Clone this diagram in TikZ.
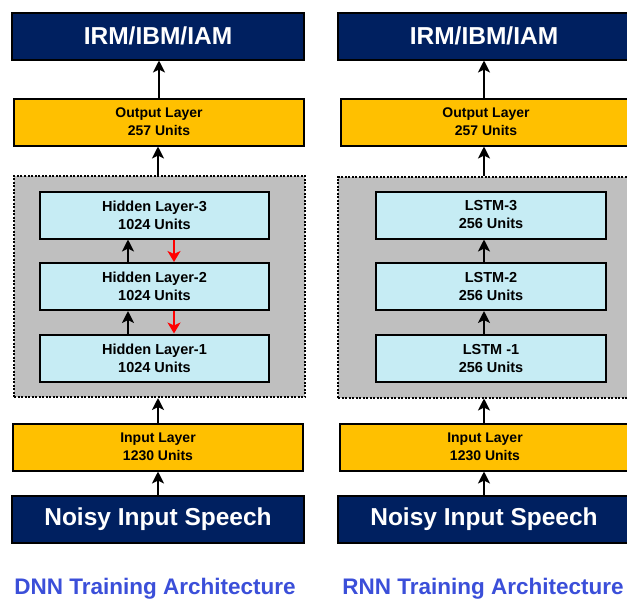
\documentclass[tikz,border=0pt]{standalone}
\usepackage{fontspec}
\setmainfont{Liberation Sans}
\usetikzlibrary{arrows.meta, positioning, calc}
\definecolor{navy}{RGB}{0, 32, 96}
\definecolor{gold}{RGB}{255, 192, 0}
\definecolor{lightcyan}{RGB}{198, 236, 244}
\definecolor{groupgray}{RGB}{191, 191, 191}
\definecolor{titleblue}{RGB}{59, 79, 217}

\begin{document}
\begin{tikzpicture}[x=1pt, y=-1pt,
    every node/.style={align=center, inner sep=0pt},
    endbox/.style={draw=black, line width=2pt, fill=navy, text=white, minimum width=292pt, minimum height=47pt, font=\bfseries\fontsize{24.5}{28}\selectfont},
    layerbox/.style={draw=black, line width=2pt, fill=gold, minimum width=290pt, minimum height=47pt, font=\bfseries\fontsize{14}{18}\selectfont},
    hiddenbox/.style={draw=black, line width=2pt, fill=lightcyan, minimum width=229pt, minimum height=47pt, font=\bfseries\fontsize{14.5}{18}\selectfont},
    groupbox/.style={draw=black, line width=2pt, dash pattern=on 2pt off 1.5pt, fill=groupgray, minimum width=291pt, minimum height=221pt},
    titletext/.style={anchor=base, text=titleblue, font=\bfseries\fontsize{22.5}{26}\selectfont},
    uparrow/.style={black, line width=2.5pt, -{Stealth[length=12pt, width=12pt, inset=3pt]}},
    backarrow/.style={red, line width=2.5pt, -{Stealth[length=11pt, width=13pt, inset=3pt]}}]
                \useasboundingbox (0,0) rectangle (627,598);
                \clip (0,0) rectangle (627,598);

                % DNN column
                \node[endbox] (maskL) at (158, 36) {IRM/IBM/IAM};
                \node[layerbox] (outL) at (159, 122) {Output Layer\\257 Units};
                \node[groupbox] (grpL) at (159.5, 286.5) {};
                \node[hiddenbox] (hidC) at (154.5, 215) {Hidden Layer-3\\1024 Units};
                \node[hiddenbox] (hidB) at (154.5, 286.5) {Hidden Layer-2\\1024 Units};
                \node[hiddenbox] (hidA) at (154.5, 358) {Hidden Layer-1\\1024 Units};
                \node[layerbox] (inL) at (158, 447) {Input Layer\\1230 Units};
                \node[endbox] (noisyL) at (158, 519.5) {Noisy Input Speech};
                \node[titletext] (titleL) at (155, 594) {DNN Training Architecture};

                \draw[uparrow] (noisyL.north) -- (noisyL.north |- inL.south);
                \draw[uparrow] (inL.north) -- (inL.north |- grpL.south);
                \draw[uparrow] (inL.north |- grpL.north) -- (inL.north |- outL.south);
                \draw[uparrow] (outL.north) -- (outL.north |- maskL.south);
                \draw[uparrow] ([xshift=-26.5pt]hidA.north) -- ([xshift=-26.5pt]hidB.south);
                \draw[uparrow] ([xshift=-26.5pt]hidB.north) -- ([xshift=-26.5pt]hidC.south);
                \draw[backarrow] ([xshift=19.5pt]hidC.south) -- ([xshift=19.5pt]hidB.north);
                \draw[backarrow] ([xshift=19.5pt]hidB.south) -- ([xshift=19.5pt]hidA.north);

                % RNN column
                \node[endbox] (maskR) at (484, 36) {IRM/IBM/IAM};
                \node[layerbox] (outR) at (486, 122) {Output Layer\\257 Units};
                \node[groupbox] (grpR) at (483.5, 287) {};
                \node[hiddenbox, minimum width=230pt] (lstmC) at (491, 215) {LSTM-3\\256 Units};
                \node[hiddenbox, minimum width=230pt] (lstmB) at (491, 286.5) {LSTM-2\\256 Units};
                \node[hiddenbox, minimum width=230pt] (lstmA) at (491, 358.5) {LSTM -1\\256 Units};
                \node[layerbox] (inR) at (485, 447) {Input Layer\\1230 Units};
                \node[endbox] (noisyR) at (484, 519.5) {Noisy Input Speech};
                \node[titletext] (titleR) at (483, 594) {RNN Training Architecture};

                \draw[uparrow] (noisyR.north) -- (noisyR.north |- inR.south);
                \draw[uparrow] (noisyR.north |- inR.north) -- (noisyR.north |- grpR.south);
                \draw[uparrow] (noisyR.north |- grpR.north) -- (noisyR.north |- outR.south);
                \draw[uparrow] (noisyR.north |- outR.north) -- (noisyR.north |- maskR.south);
                \draw[uparrow] (noisyR.north |- lstmA.north) -- (noisyR.north |- lstmB.south);
                \draw[uparrow] (noisyR.north |- lstmB.north) -- (noisyR.north |- lstmC.south);
            \end{tikzpicture}
\end{document}
